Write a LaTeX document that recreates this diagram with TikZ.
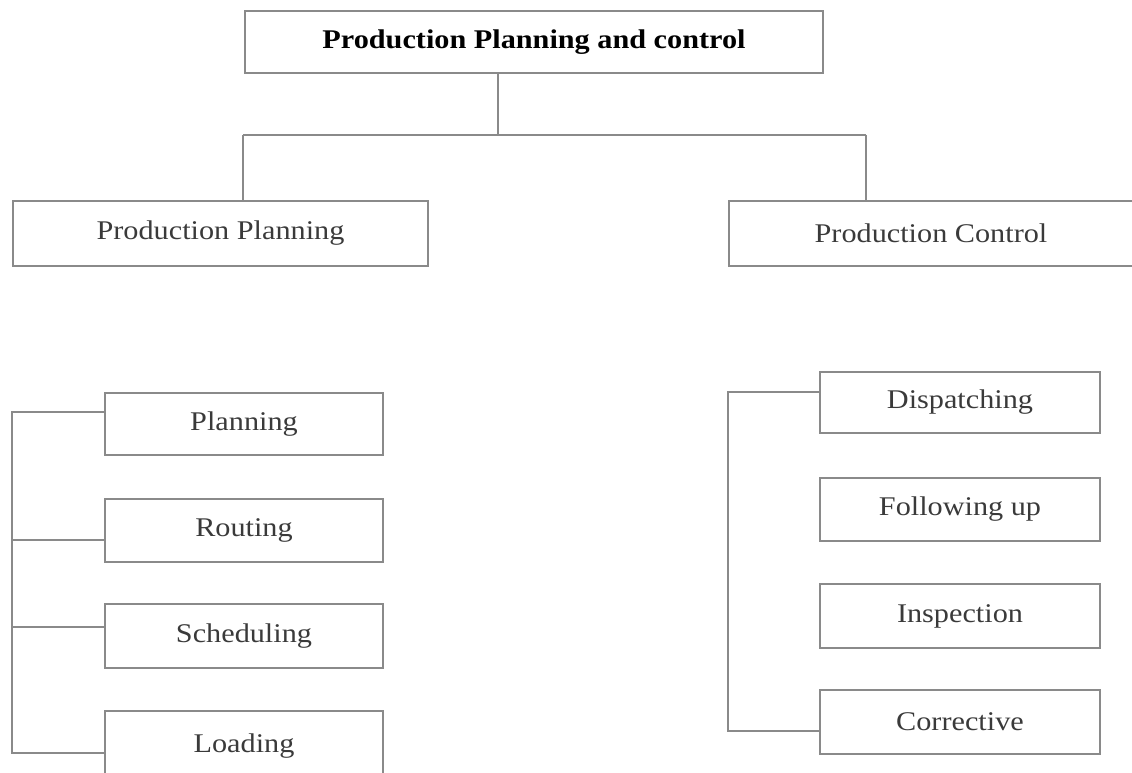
\documentclass[tikz,border=0pt]{standalone}
\usepackage{fontspec}
\setmainfont{Liberation Serif}[FakeStretch=1.12]
\tikzset{
  box/.style={draw=linegray, line width=2pt, anchor=north west, inner sep=0pt,
    font=\fontsize{27}{30}\selectfont, text=textgray},
  conn/.style={draw=linegray, line width=2pt},
}
\definecolor{linegray}{HTML}{8A8A8A}
\definecolor{textgray}{HTML}{3A3A3A}
\begin{document}
\begin{tikzpicture}[x=1pt,y=-1pt]
\useasboundingbox (0,0) rectangle (1132,773);
\clip (0,0) rectangle (1132,773);
% top
\node[box, minimum width=578pt, minimum height=62pt, text=black,
  font=\fontsize{27}{30}\selectfont\bfseries] (top) at (244,10) {Production Planning and control};
\node[box, minimum width=415pt, minimum height=65pt] (pp) at (12,200) {Production Planning};
\node[box, minimum width=420pt, minimum height=65pt] (pc) at (728,200) {\hspace*{-16pt}Production Control};
% left items
\node[box, minimum width=278pt, minimum height=62pt] (pl) at (104,392) {Planning};
\node[box, minimum width=278pt, minimum height=63pt] (ro) at (104,498) {Routing};
\node[box, minimum width=278pt, minimum height=64pt] (sc) at (104,603) {Scheduling};
\node[box, minimum width=278pt, minimum height=84pt] (lo) at (104,710) {\raisebox{20pt}{Loading}};
% right items
\node[box, minimum width=280pt, minimum height=61pt] (di) at (819,371) {Dispatching};
\node[box, minimum width=280pt, minimum height=63pt] (fu) at (819,477) {Following up};
\node[box, minimum width=280pt, minimum height=64pt] (in) at (819,583) {Inspection};
\node[box, minimum width=280pt, minimum height=64pt] (co) at (819,689) {Corrective};
% tree connectors
\coordinate (j) at (498,135);
\coordinate (jl) at (243,135);
\coordinate (jr) at (866,135);
\draw[conn] (top.south -| j) -- (j);
\draw[conn] (jl) -- (jr);
\draw[conn] (jl) -- (jl |- pp.north);
\draw[conn] (jr) -- (jr |- pc.north);
% left bracket
\coordinate (l1) at (12,412);
\coordinate (l2) at (12,540);
\coordinate (l3) at (12,627);
\coordinate (l4) at (12,753);
\draw[conn] (l1 -| pl.west) -- (l1) -- (l4) -- (l4 -| lo.west);
\draw[conn] (l2) -- (l2 -| ro.west);
\draw[conn] (l3) -- (l3 -| sc.west);
% right bracket
\coordinate (r1) at (728,392);
\coordinate (r2) at (728,731);
\draw[conn] (r1 -| di.west) -- (r1) -- (r2) -- (r2 -| co.west);
\end{tikzpicture}
\end{document}
